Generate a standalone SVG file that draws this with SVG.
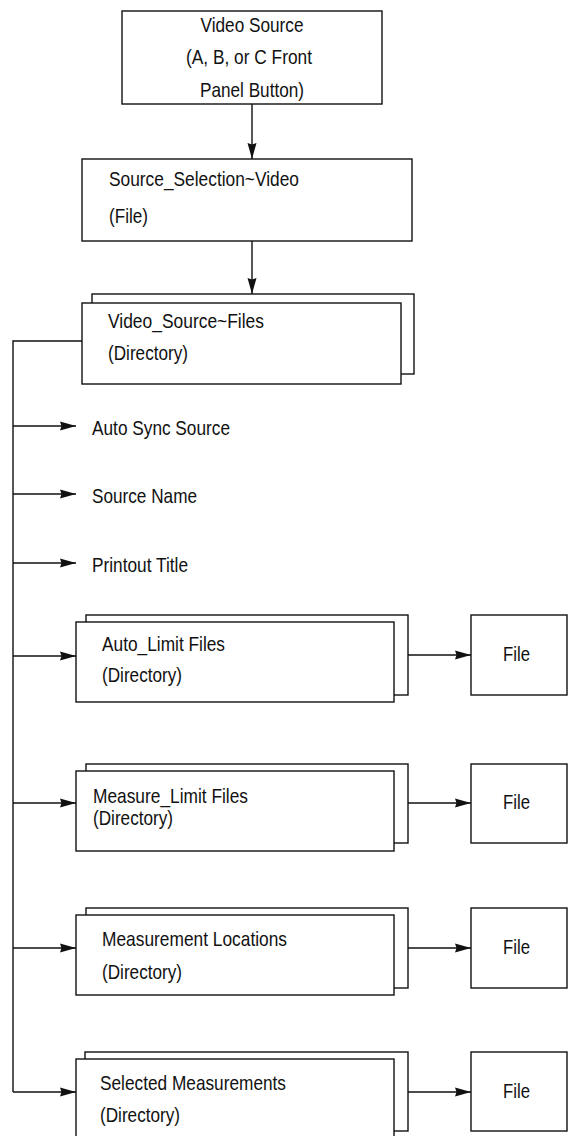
<svg xmlns="http://www.w3.org/2000/svg" width="568" height="1136" viewBox="0 0 568 1136">
  <style>
    .box { fill: #fff; stroke: #111; stroke-width: 1.4; }
    .wire { fill: none; stroke: #111; stroke-width: 1.4; }
    text { font-family: "Liberation Sans", Arial, sans-serif; font-size: 21px; fill: #111; }
    .mid { text-anchor: middle; }
  </style>
  <defs>
    <marker id="arrow" viewBox="0 0 16 10" refX="16" refY="5" markerWidth="16" markerHeight="10" markerUnits="userSpaceOnUse" orient="auto">
      <path d="M0,0.5 L16,5 L0,9.5 L1.5,5 z" fill="#111"/>
    </marker>
  </defs>

  <!-- connectors -->
  <g id="connectors">
    <line class="wire" x1="252" y1="104" x2="252" y2="159" marker-end="url(#arrow)"/>
    <line class="wire" x1="252" y1="241" x2="252" y2="294" marker-end="url(#arrow)"/>
    <polyline class="wire" points="82,341 13,341 13,1092"/>
    <line class="wire" x1="13" y1="426" x2="76" y2="426" marker-end="url(#arrow)"/>
    <line class="wire" x1="13" y1="494" x2="76" y2="494" marker-end="url(#arrow)"/>
    <line class="wire" x1="13" y1="563" x2="76" y2="563" marker-end="url(#arrow)"/>
    <line class="wire" x1="13" y1="656" x2="76" y2="656" marker-end="url(#arrow)"/>
    <line class="wire" x1="13" y1="803" x2="76" y2="803" marker-end="url(#arrow)"/>
    <line class="wire" x1="13" y1="948" x2="76" y2="948" marker-end="url(#arrow)"/>
    <line class="wire" x1="13" y1="1092" x2="76" y2="1092" marker-end="url(#arrow)"/>
    <line class="wire" x1="408" y1="655" x2="471" y2="655" marker-end="url(#arrow)"/>
    <line class="wire" x1="408" y1="803" x2="471" y2="803" marker-end="url(#arrow)"/>
    <line class="wire" x1="408" y1="948" x2="471" y2="948" marker-end="url(#arrow)"/>
    <line class="wire" x1="408" y1="1092" x2="471" y2="1092" marker-end="url(#arrow)"/>
  </g>

  <g id="video-source">
    <rect class="box" x="122" y="11" width="260" height="93"/>
    <text class="mid" x="252" y="32" textLength="103" lengthAdjust="spacingAndGlyphs">Video Source</text>
    <text class="mid" x="249" y="64" textLength="126" lengthAdjust="spacingAndGlyphs">(A, B, or C Front</text>
    <text class="mid" x="252" y="97" textLength="104" lengthAdjust="spacingAndGlyphs">Panel Button)</text>
  </g>

  <g id="source-selection">
    <rect class="box" x="82" y="159" width="330" height="82"/>
    <text x="109" y="186" textLength="190" lengthAdjust="spacingAndGlyphs">Source_Selection~Video</text>
    <text x="109" y="223" textLength="39" lengthAdjust="spacingAndGlyphs">(File)</text>
  </g>

  <g id="video-source-files">
    <rect class="box" x="92" y="294" width="322" height="80"/>
    <rect class="box" x="82" y="303" width="319" height="81"/>
    <text x="108" y="328" textLength="156" lengthAdjust="spacingAndGlyphs">Video_Source~Files</text>
    <text x="108" y="360" textLength="80" lengthAdjust="spacingAndGlyphs">(Directory)</text>
  </g>

  <g id="auto-sync-source">
    <text x="92" y="435" textLength="138" lengthAdjust="spacingAndGlyphs">Auto Sync Source</text>
  </g>
  <g id="source-name">
    <text x="92" y="503" textLength="105" lengthAdjust="spacingAndGlyphs">Source Name</text>
  </g>
  <g id="printout-title">
    <text x="92" y="572" textLength="96" lengthAdjust="spacingAndGlyphs">Printout Title</text>
  </g>

  <g id="auto-limit-files">
    <rect class="box" x="86" y="615" width="322" height="80"/>
    <rect class="box" x="76" y="622" width="318" height="80"/>
    <text x="102" y="651" textLength="123" lengthAdjust="spacingAndGlyphs">Auto_Limit Files</text>
    <text x="102" y="682" textLength="80" lengthAdjust="spacingAndGlyphs">(Directory)</text>
  </g>
  <g id="auto-limit-file">
    <rect class="box" x="471" y="615" width="96" height="80"/>
    <text x="503" y="661" textLength="27" lengthAdjust="spacingAndGlyphs">File</text>
  </g>

  <g id="measure-limit-files">
    <rect class="box" x="86" y="764" width="322" height="79"/>
    <rect class="box" x="76" y="771" width="318" height="80"/>
    <text x="93" y="803" textLength="155" lengthAdjust="spacingAndGlyphs">Measure_Limit Files</text>
    <text x="93" y="825" textLength="80" lengthAdjust="spacingAndGlyphs">(Directory)</text>
  </g>
  <g id="measure-limit-file">
    <rect class="box" x="471" y="764" width="96" height="79"/>
    <text x="503" y="809" textLength="27" lengthAdjust="spacingAndGlyphs">File</text>
  </g>

  <g id="measurement-locations">
    <rect class="box" x="86" y="908" width="322" height="80"/>
    <rect class="box" x="76" y="915" width="318" height="80"/>
    <text x="102" y="946" textLength="185" lengthAdjust="spacingAndGlyphs">Measurement Locations</text>
    <text x="102" y="979" textLength="80" lengthAdjust="spacingAndGlyphs">(Directory)</text>
  </g>
  <g id="measurement-locations-file">
    <rect class="box" x="471" y="908" width="96" height="80"/>
    <text x="503" y="954" textLength="27" lengthAdjust="spacingAndGlyphs">File</text>
  </g>

  <g id="selected-measurements">
    <rect class="box" x="85" y="1052" width="323" height="79"/>
    <rect class="box" x="76" y="1059" width="318" height="82"/>
    <text x="100" y="1090" textLength="186" lengthAdjust="spacingAndGlyphs">Selected Measurements</text>
    <text x="100" y="1122" textLength="80" lengthAdjust="spacingAndGlyphs">(Directory)</text>
  </g>
  <g id="selected-measurements-file">
    <rect class="box" x="471" y="1052" width="96" height="79"/>
    <text x="503" y="1098" textLength="27" lengthAdjust="spacingAndGlyphs">File</text>
  </g>
</svg>
